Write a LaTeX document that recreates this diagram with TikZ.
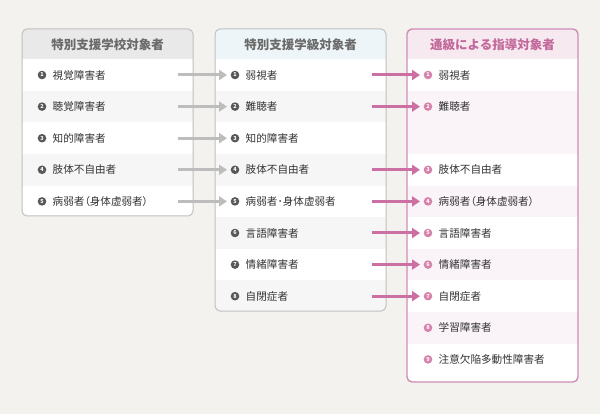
\documentclass[tikz,border=0pt]{standalone}
\usepackage{fontspec}
\setmainfont{Noto Sans CJK JP}
\usetikzlibrary{arrows.meta}
\definecolor{bg}{HTML}{F3F2EE}
\definecolor{lhead}{HTML}{E9E9E9}
\definecolor{mhead}{HTML}{EEF5F8}
\definecolor{rhead}{HTML}{F7E9F0}
\definecolor{gband}{HTML}{F6F6F6}
\definecolor{pband}{HTML}{FAF3F7}
\definecolor{gborder}{HTML}{C0C0C0}
\definecolor{pborder}{HTML}{CF8DB4}
\definecolor{garrow}{HTML}{BDBDBD}
\definecolor{parrow}{HTML}{CC6FA3}
\definecolor{gbul}{HTML}{585858}
\definecolor{pbul}{HTML}{D682AB}
\definecolor{ghtext}{HTML}{6A6A6A}
\definecolor{phtext}{HTML}{C2689A}
\definecolor{itext}{HTML}{333333}
\tikzset{
  bul/.style={circle,fill=gbul,inner sep=0pt,minimum size=8.6pt,text=white,font=\fontsize{5.5}{6}\selectfont\bfseries},
  pbullet/.style={bul,fill=pbul},
  item/.style={anchor=west,inner sep=0pt,text=itext,font=\fontsize{10.6}{12}\selectfont\addfontfeatures{RawFeature=+palt}},
  head/.style={inner sep=0pt,text=ghtext,font=\fontsize{12.5}{14}\selectfont\bfseries},
  phead/.style={head,text=phtext},
  garr/.style={draw=garrow,line width=3pt,-{Triangle[length=8pt,width=10pt]},shorten >=3.5pt},
  parr/.style={draw=parrow,line width=3pt,-{Triangle[length=8pt,width=10pt]},shorten >=3.5pt},
  boxg/.style={draw=gborder,line width=1pt,rounded corners=5pt},
  boxp/.style={draw=pborder,line width=1.4pt,rounded corners=5pt}
}
\begin{document}
\begin{tikzpicture}[x=1pt,y=-1pt]
\useasboundingbox (0,0) rectangle (600,414);
\fill[bg] (0,0) rectangle (600,414);
% ---------- left box
\begin{scope}
\clip[rounded corners=5pt] (22,29) rectangle (193,216);
\fill[white] (22,29) rectangle (193,216);
\fill[lhead] (22,29) rectangle (193,59.2);
\foreach \i in {2,4} \fill[gband] (22,{75+(\i-1)*31.6-15.8}) rectangle (193,{75+(\i-1)*31.6+15.8});
\end{scope}
\draw[boxg] (22,29) rectangle (193,216);
% ---------- middle box
\begin{scope}
\clip[rounded corners=5pt] (215,29) rectangle (386,311);
\fill[white] (215,29) rectangle (386,311);
\fill[mhead] (215,29) rectangle (386,59.2);
\foreach \i in {2,4,6,8} \fill[gband] (215,{75+(\i-1)*31.6-15.8}) rectangle (386,{75+(\i-1)*31.6+15.8});
\end{scope}
\draw[boxg] (215,29) rectangle (386,311);
% ---------- right box
\begin{scope}
\clip[rounded corners=5pt] (407,29) rectangle (578,382);
\fill[white] (407,29) rectangle (578,382);
\fill[rhead] (407,29) rectangle (578,59.2);
\foreach \i in {2,3,5,7,9} \fill[pband] (407,{75+(\i-1)*31.6-15.8}) rectangle (578,{75+(\i-1)*31.6+15.8});
\end{scope}
\draw[boxp] (407,29) rectangle (578,382);
% ---------- headers
\node[head] (hL) at (107.5,45) {特別支援学校対象者};
\node[head] (hM) at (300.5,45) {特別支援学級対象者};
\node[phead] (hR) at (492.5,45) {通級による指導対象者};
% ---------- left rows
\foreach \i/\t in {1/視覚障害者,2/聴覚障害者,3/知的障害者,4/肢体不自由者,5/病弱者（身体虚弱者）}{
  \node[bul] (Lb\i) at (42,{75+(\i-1)*31.6}) {\i};
  \node[item] (L\i) at (52.5,{75+(\i-1)*31.6}) {\t};
  \coordinate (La\i) at (178,{75+(\i-1)*31.6});
}
% ---------- middle rows
\foreach \i/\t in {1/弱視者,2/難聴者,3/知的障害者,4/肢体不自由者,5/病弱者･身体虚弱者,6/言語障害者,7/情緒障害者,8/自閉症者}{
  \node[bul] (Mb\i) at (235,{75+(\i-1)*31.6}) {\i};
  \node[item] (M\i) at (245.5,{75+(\i-1)*31.6}) {\t};
  \coordinate (Ma\i) at (372,{75+(\i-1)*31.6});
}
% ---------- right rows
\foreach \i/\s/\t in {1/1/弱視者,2/2/難聴者,3/4/肢体不自由者,4/5/病弱者（身体虚弱者）,5/6/言語障害者,6/7/情緒障害者,7/8/自閉症者,8/9/学習障害者,9/10/注意欠陥多動性障害者}{
  \node[pbullet] (Rb\i) at (428,{75+(\s-1)*31.6}) {\i};
  \node[item] (R\i) at (438.5,{75+(\s-1)*31.6}) {\t};
}
% ---------- arrows
\foreach \i in {1,...,5} \draw[garr] (La\i) -- (Mb\i);
\draw[parr] (Ma1) -- (Rb1);
\draw[parr] (Ma2) -- (Rb2);
\draw[parr] (Ma4) -- (Rb3);
\draw[parr] (Ma5) -- (Rb4);
\draw[parr] (Ma6) -- (Rb5);
\draw[parr] (Ma7) -- (Rb6);
\draw[parr] (Ma8) -- (Rb7);
\end{tikzpicture}
\end{document}
